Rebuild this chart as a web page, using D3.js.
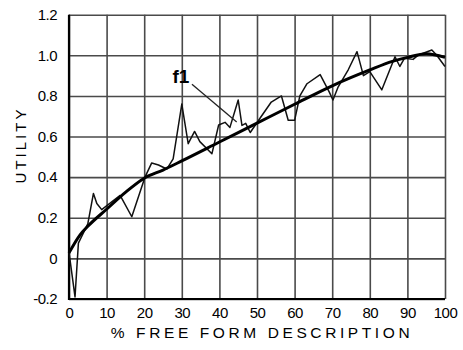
<!DOCTYPE html>
<html>
<head>
<meta charset="utf-8">
<script src="https://cdn.jsdelivr.net/npm/d3@7"></script>
<style>
  body { margin: 0; background: #fff; }
  svg { display: block; font-family: "Liberation Sans", Arial, sans-serif; }
</style>
</head>
<body>
<svg id="chart" width="463" height="350"></svg>
<script>
// x ticks and labels
const xTicks = [0, 10, 20, 30, 40, 50, 60, 70, 80, 90, 100];
const yTicks = [-0.2, 0, 0.2, 0.4, 0.6, 0.8, 1.0, 1.2];
const yTickLabels = ["-0.2", "0", "0.2", "0.4", "0.6", "0.8", "1.0", "1.2"];

// raw (noisy) utility
const rawX = [0, 1.6, 2.5, 5, 6.5, 7.4, 8.7, 13.6, 16.7, 20.2, 22, 23.8, 26, 27.7, 30, 31.7, 33.4, 34.8, 38, 39.8, 41.5, 42.8, 45, 46, 47, 48.2, 50.8, 53.8, 56.5, 58.3, 60, 61.4, 63.3, 66.8, 69.2, 70.2, 71.6, 74.3, 76.6, 78.3, 80, 83.2, 86.7, 88, 89.2, 91.5, 92.8, 96.5, 97.8, 100];
const rawY = [0.03, -0.19, 0.075, 0.17, 0.32, 0.27, 0.24, 0.31, 0.205, 0.40, 0.47, 0.46, 0.44, 0.49, 0.76, 0.565, 0.625, 0.575, 0.515, 0.657, 0.67, 0.645, 0.78, 0.655, 0.665, 0.62, 0.69, 0.77, 0.80, 0.68, 0.68, 0.80, 0.86, 0.905, 0.82, 0.78, 0.845, 0.93, 1.018, 0.90, 0.92, 0.83, 0.993, 0.945, 0.985, 0.98, 1.0, 1.026, 1.0, 0.945];

// fitted curve f1
const fitX = [0, 2.9, 5, 10, 15, 20, 25, 30, 40, 50, 60, 70, 80, 86, 90, 95, 100];
const fitY = [0.027, 0.115, 0.158, 0.242, 0.325, 0.395, 0.435, 0.48, 0.573, 0.666, 0.759, 0.85, 0.928, 0.97, 0.99, 1.008, 0.99];

const W = 463, H = 350;
const margin = { top: 14.7, right: 18, bottom: 51, left: 69 };

const svg = d3.select("#chart");
const x = d3.scaleLinear().domain([0, 100]).range([margin.left, W - margin.right]);
const y = d3.scaleLinear().domain([-0.2, 1.2]).range([H - margin.bottom, margin.top]);
const innerW = W - margin.left - margin.right;
const innerH = H - margin.top - margin.bottom;

// vertical grid + x labels
const xAxis = svg.append("g")
  .attr("transform", `translate(0,${y(-0.2)})`)
  .call(d3.axisBottom(x).tickValues(xTicks).tickSize(-innerH).tickSizeOuter(0).tickPadding(8));
xAxis.select(".domain").remove();
xAxis.selectAll("line").attr("stroke", "#4a4a4a").attr("stroke-width", 1.6);
xAxis.selectAll("text").attr("font-size", 15).attr("fill", "#000")
  .attr("font-family", "Liberation Sans, Arial, sans-serif").style("letter-spacing", "-0.5px");

// horizontal grid + y labels
const yAxis = svg.append("g")
  .attr("transform", `translate(${x(0)},0)`)
  .call(d3.axisLeft(y).tickValues(yTicks).tickSize(-innerW).tickSizeOuter(0).tickPadding(12)
    .tickFormat((d, i) => yTickLabels[i]));
yAxis.select(".domain").remove();
yAxis.selectAll("line").attr("stroke", "#4a4a4a").attr("stroke-width", 1.6);
yAxis.selectAll("text").attr("font-size", 15).attr("fill", "#000")
  .attr("font-family", "Liberation Sans, Arial, sans-serif").style("letter-spacing", "-0.5px");

// left and bottom axis lines
svg.append("path")
  .attr("d", `M${x(0)},${y(1.2)}V${y(-0.2)}H${x(100)}`)
  .attr("fill", "none").attr("stroke", "#000").attr("stroke-width", 2.2);

// raw line
const raw = rawX.map((v, i) => [v, rawY[i]]);
svg.append("path")
  .datum(raw)
  .attr("fill", "none")
  .attr("stroke", "#111")
  .attr("stroke-width", 1.5)
  .attr("stroke-linejoin", "round")
  .attr("d", d3.line().x(d => x(d[0])).y(d => y(d[1])));

// fitted curve
const fit = fitX.map((v, i) => [v, fitY[i]]);
svg.append("path")
  .datum(fit)
  .attr("fill", "none")
  .attr("stroke", "#000")
  .attr("stroke-width", 3)
  .attr("d", d3.line().curve(d3.curveMonotoneX).x(d => x(d[0])).y(d => y(d[1])));

// f1 label and leader
svg.append("line")
  .attr("x1", x(32.7)).attr("y1", y(0.858))
  .attr("x2", x(44.6)).attr("y2", y(0.672))
  .attr("stroke", "#222").attr("stroke-width", 1.3);
svg.append("text")
  .attr("x", x(27.5)).attr("y", y(0.866))
  .attr("font-size", 19).attr("font-weight", "bold")
  .text("f1");

// axis titles
svg.append("text")
  .attr("x", 262).attr("y", 338)
  .attr("text-anchor", "middle")
  .attr("font-size", 15.5)
  .style("letter-spacing", "3.6px")
  .text("% FREE FORM DESCRIPTION");

svg.append("text")
  .attr("transform", "translate(26,145) rotate(-90)")
  .attr("text-anchor", "middle")
  .attr("font-size", 15)
  .style("letter-spacing", "3px")
  .text("UTILITY");
</script>
</body>
</html>
